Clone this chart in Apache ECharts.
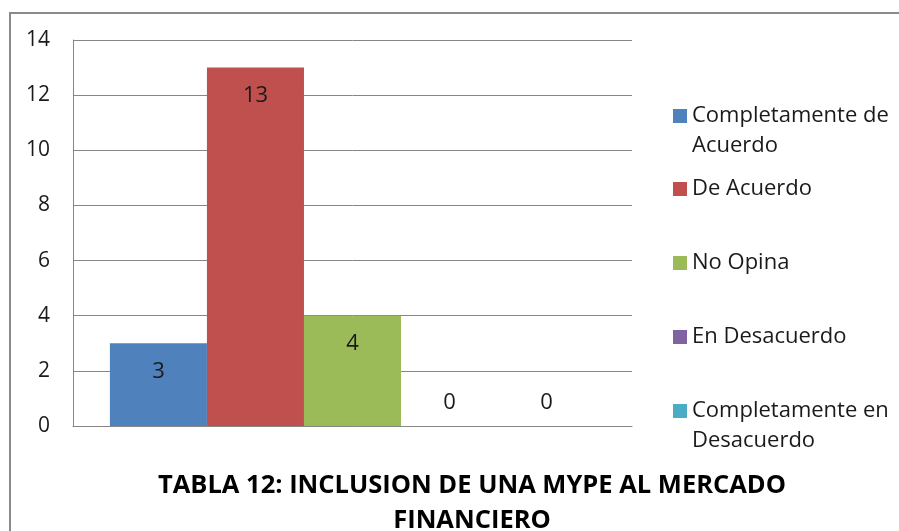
<!DOCTYPE html>
<html>
<head>
<meta charset="utf-8">
<script src="https://cdn.jsdelivr.net/npm/echarts@6/dist/echarts.min.js"></script>
<style>html,body{margin:0;padding:0;background:#fff;}#c{width:899px;height:531px;}</style>
</head>
<body>
<div id="c"></div>
<script>
var categories = [''];
var seriesNames = ['Completamente de Acuerdo', 'De Acuerdo', 'No Opina', 'En Desacuerdo', 'Completamente en Desacuerdo'];
var legendLabels = ['Completamente de\nAcuerdo', 'De Acuerdo', 'No Opina', 'En Desacuerdo', 'Completamente en\nDesacuerdo'];
var seriesValues = [3, 13, 4, 0, 0];
var seriesColors = ['#4F81BD', '#C0504D', '#9BBB59', '#8064A2', '#4BACC6'];
var yTicks = [0, 2, 4, 6, 8, 10, 12, 14];
var titleText = 'TABLA 12: INCLUSION DE UNA MYPE AL MERCADO\nFINANCIERO';

var FONT = 'Open Sans';
var chart = echarts.init(document.getElementById('c'));

var legendTops = [66, 169, 243, 317, 361];
var legends = seriesNames.map(function (name, i) {
  var twoLine = legendLabels[i].indexOf('\n') >= 0;
  return {
    orient: 'vertical',
    left: 668,
    top: legendTops[i],
    itemWidth: 14,
    itemHeight: 14,
    itemGap: 0,
    icon: 'rect',
    selectedMode: false,
    data: [name],
    formatter: function () { return twoLine ? '\n' + legendLabels[i] : legendLabels[i]; },
    textStyle: {
      fontFamily: FONT,
      fontSize: 22,
      color: '#1a1a1a',
      lineHeight: 30
    }
  };
});

var series = seriesNames.map(function (name, i) {
  var v = seriesValues[i];
  return {
    name: name,
    type: 'bar',
    barGap: '0%',
    barCategoryGap: '13.2%',
    itemStyle: { color: seriesColors[i] },
    data: [v],
    label: {
      show: true,
      position: v === 0 ? 'top' : 'insideTop',
      distance: v === 0 ? 12 : 17,
      fontFamily: FONT,
      fontSize: 22,
      color: '#1a1a1a'
    }
  };
});

chart.setOption({
  animation: false,
  backgroundColor: '#fff',
  graphic: [{
    type: 'rect',
    shape: { x: 10, y: 13, width: 920, height: 560 },
    style: { fill: 'none', stroke: '#8a8a8a', lineWidth: 2 },
    silent: true
  }],
  title: {
    text: titleText,
    left: 467,
    top: 463,
    textAlign: 'center',
    textStyle: {
      fontFamily: FONT,
      fontWeight: 'bold',
      fontSize: 25.5,
      lineHeight: 35,
      color: '#000'
    }
  },
  legend: legends,
  grid: { left: 73, top: 40, right: 267, bottom: 105, containLabel: false },
  xAxis: {
    type: 'category',
    data: categories,
    axisLine: { lineStyle: { color: '#868686', width: 1 } },
    axisTick: { show: false },
    axisLabel: { show: false }
  },
  yAxis: {
    type: 'value',
    min: yTicks[0],
    max: yTicks[yTicks.length - 1],
    interval: 2,
    axisLine: { show: true, lineStyle: { color: '#868686', width: 1 } },
    axisTick: { show: false },
    splitLine: { lineStyle: { color: '#868686', width: 1 } },
    axisLabel: {
      margin: 23,
      fontFamily: FONT,
      fontSize: 21,
      color: '#1a1a1a'
    }
  },
  series: series
});
</script>
</body>
</html>
